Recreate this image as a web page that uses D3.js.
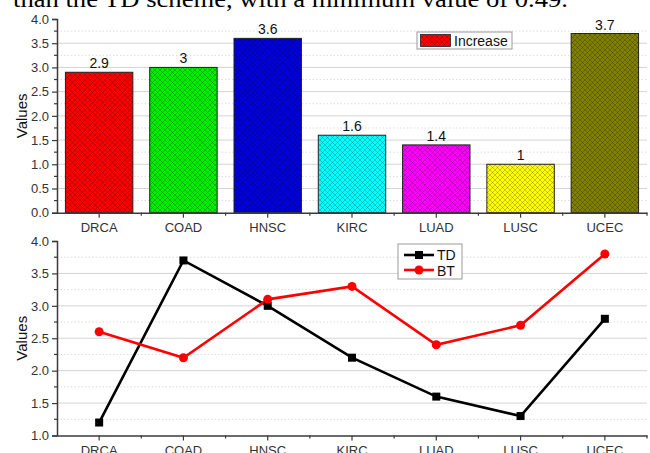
<!DOCTYPE html>
<html>
<head>
<meta charset="utf-8">
<script src="https://cdn.jsdelivr.net/npm/d3@7"></script>
<style>
  html, body { margin: 0; padding: 0; background: #fff; }
  svg { display: block; }
  text { font-family: "Liberation Sans", Arial, sans-serif; }
</style>
</head>
<body>
<svg id="chart" width="650" height="453"></svg>
<script>
// Cancer types shared by both panels
const categories = ["DRCA", "COAD", "HNSC", "KIRC", "LUAD", "LUSC", "UCEC"];
// Upper panel: increase per cancer type
const increaseValues = [2.9, 3, 3.6, 1.6, 1.4, 1, 3.7];
const barColors = ["#ff0000", "#00ee00", "#0000dd", "#00ffff", "#ff00ff", "#ffff00", "#808000"];
// Lower panel: two schemes
const tdValues = [1.2, 3.7, 3.0, 2.2, 1.6, 1.3, 2.8];
const btValues = [2.6, 2.2, 3.1, 3.3, 2.4, 2.7, 3.8];
const topTicks = [0, 0.5, 1, 1.5, 2, 2.5, 3, 3.5, 4];
const bottomTicks = [1, 1.5, 2, 2.5, 3, 3.5, 4];

const svg = d3.select("#chart");
const axisColor = "#3a3a3a";

// Leftover caption line from the surrounding text
svg.append("text")
  .attr("x", 13).attr("y", 7)
  .attr("textLength", 555).attr("lengthAdjust", "spacingAndGlyphs")
  .style("font-family", "'Liberation Serif', 'Times New Roman', serif")
  .style("font-size", "24px").attr("fill", "#000")
  .text("than the TD scheme, with a minimum value of 0.49.");

// Cross-hatch patterns, one per bar colour
const defs = svg.append("defs");
barColors.forEach((c, i) => {
  const p = defs.append("pattern").attr("id", "hatch" + i)
    .attr("patternUnits", "userSpaceOnUse").attr("width", 5).attr("height", 5);
  p.append("rect").attr("width", 5).attr("height", 5).attr("fill", c);
  p.append("path").attr("d", "M0,0L5,5M-1,4L1,6M4,-1L6,1M0,5L5,0M-1,1L1,-1M4,6L6,4")
    .attr("stroke", "#000").attr("stroke-opacity", 0.4).attr("stroke-width", 0.55);
});

const x0 = 57, x1 = 647;
const x = d3.scaleBand().domain(categories).range([x0, x1]).paddingInner(0.2).paddingOuter(0.1);
const xc = d => x(d) + x.bandwidth() / 2;
const step = x.step();

function drawGrid(g, y, lo, hi) {
  const minors = d3.range(lo, hi + 0.001, 0.25);
  minors.forEach(v => {
    if (v === lo || v === hi) return;
    const major = Math.abs(v * 2 - Math.round(v * 2)) < 1e-6;
    g.append("line").attr("x1", x0).attr("x2", x1)
      .attr("y1", y(v)).attr("y2", y(v))
      .attr("stroke", major ? "#d4d4d4" : "#dcdcdc")
      .attr("stroke-width", 1)
      .attr("stroke-dasharray", major ? null : "1.5,2");
  });
}

function drawAxes(g, y, lo, hi, ticks) {
  // y axis
  const yAxis = d3.axisLeft(y).tickValues(ticks).tickFormat(d3.format(".1f")).tickSize(5).tickPadding(3);
  const ya = g.append("g").attr("transform", `translate(${x0},0)`).call(yAxis);
  ya.select(".domain").attr("stroke", axisColor).attr("stroke-width", 1.5);
  ya.selectAll(".tick line").attr("stroke", axisColor).attr("stroke-width", 1.2);
  ya.selectAll(".tick text").style("font-size", "13px").attr("fill", "#333");
  d3.range(lo + 0.25, hi, 0.5).forEach(v => {
    g.append("line").attr("x1", x0 - 3).attr("x2", x0).attr("y1", y(v)).attr("y2", y(v))
      .attr("stroke", axisColor).attr("stroke-width", 1.2);
  });
  // x axis
  const xAxis = d3.axisBottom(x).tickSize(5).tickPadding(5).tickSizeOuter(0);
  const xa = g.append("g").attr("transform", `translate(0,${y(lo)})`).call(xAxis);
  xa.select(".domain").attr("stroke", axisColor).attr("stroke-width", 1.5);
  xa.selectAll(".tick line").attr("stroke", axisColor).attr("stroke-width", 1.2);
  xa.selectAll(".tick text").style("font-size", "13px").attr("fill", "#333");
  categories.slice(0, -1).forEach(c => {
    const bx = x(c) - (step - x.bandwidth()) / 2 + step;
    g.append("line").attr("x1", bx).attr("x2", bx).attr("y1", y(lo)).attr("y2", y(lo) + 3)
      .attr("stroke", axisColor).attr("stroke-width", 1.2);
  });
  g.append("line").attr("x1", x1).attr("x2", x1).attr("y1", y(lo)).attr("y2", y(lo) + 3)
    .attr("stroke", axisColor).attr("stroke-width", 1.2);
  // axis title
  g.append("text")
    .attr("transform", `translate(27,${(y(lo) + y(hi)) / 2}) rotate(-90)`)
    .attr("text-anchor", "middle").style("font-size", "15px").attr("fill", "#111")
    .text("Values");
}

// ---------- Upper panel: bars ----------
const gTop = svg.append("g");
const yTop = d3.scaleLinear().domain([0, 4]).range([212.7, 19]);
drawGrid(gTop, yTop, 0, 4);

gTop.selectAll("rect.bar").data(categories).join("rect")
  .attr("class", "bar")
  .attr("x", d => x(d)).attr("width", x.bandwidth())
  .attr("y", (d, i) => yTop(increaseValues[i]))
  .attr("height", (d, i) => yTop(0) - yTop(increaseValues[i]))
  .attr("fill", (d, i) => `url(#hatch${i})`)
  .attr("stroke", "#222").attr("stroke-width", 1);

gTop.selectAll("text.val").data(categories).join("text")
  .attr("class", "val")
  .attr("x", d => xc(d)).attr("y", (d, i) => yTop(increaseValues[i]) - 4)
  .attr("text-anchor", "middle").style("font-size", "14px").attr("fill", "#111")
  .text((d, i) => increaseValues[i]);

drawAxes(gTop, yTop, 0, 4, topTicks);

// Legend (upper)
const lgTop = gTop.append("g").attr("transform", "translate(417,32)");
lgTop.append("rect").attr("width", 95).attr("height", 17).attr("fill", "#fff")
  .attr("stroke", "#999").attr("stroke-width", 1);
lgTop.append("rect").attr("x", 3.5).attr("y", 2.5).attr("width", 30).attr("height", 12)
  .attr("fill", "url(#hatch0)").attr("stroke", "#222").attr("stroke-width", 0.8);
lgTop.append("text").attr("x", 37).attr("y", 13.8).style("font-size", "14px").attr("fill", "#111")
  .text("Increase");

// ---------- Lower panel: lines ----------
const gBot = svg.append("g");
const yBot = d3.scaleLinear().domain([1, 4]).range([435.5, 241]);
drawGrid(gBot, yBot, 1, 4);
drawAxes(gBot, yBot, 1, 4, bottomTicks);

const line = d3.line().x((d, i) => xc(categories[i])).y(d => yBot(d));

gBot.append("path").datum(tdValues).attr("d", line)
  .attr("fill", "none").attr("stroke", "#000").attr("stroke-width", 2.6);
gBot.append("path").datum(btValues).attr("d", line)
  .attr("fill", "none").attr("stroke", "#ff0000").attr("stroke-width", 2.6);

gBot.selectAll("rect.td").data(tdValues).join("rect").attr("class", "td")
  .attr("x", (d, i) => xc(categories[i]) - 4).attr("y", d => yBot(d) - 4)
  .attr("width", 8).attr("height", 8).attr("fill", "#000");
gBot.selectAll("circle.bt").data(btValues).join("circle").attr("class", "bt")
  .attr("cx", (d, i) => xc(categories[i])).attr("cy", d => yBot(d))
  .attr("r", 4.5).attr("fill", "#ff0000");

// Legend (lower)
const lgBot = gBot.append("g").attr("transform", "translate(398,244)");
lgBot.append("rect").attr("width", 64).attr("height", 35).attr("fill", "#fff")
  .attr("stroke", "#999").attr("stroke-width", 1);
lgBot.append("line").attr("x1", 6).attr("x2", 36).attr("y1", 11).attr("y2", 11)
  .attr("stroke", "#000").attr("stroke-width", 2.6);
lgBot.append("rect").attr("x", 17).attr("y", 7).attr("width", 8).attr("height", 8).attr("fill", "#000");
lgBot.append("line").attr("x1", 6).attr("x2", 36).attr("y1", 26).attr("y2", 26)
  .attr("stroke", "#ff0000").attr("stroke-width", 2.6);
lgBot.append("circle").attr("cx", 21).attr("cy", 26).attr("r", 4.5).attr("fill", "#ff0000");
lgBot.append("text").attr("x", 39).attr("y", 16).style("font-size", "14px").attr("fill", "#111").text("TD");
lgBot.append("text").attr("x", 39).attr("y", 31.5).style("font-size", "14px").attr("fill", "#111").text("BT");
</script>
</body>
</html>
